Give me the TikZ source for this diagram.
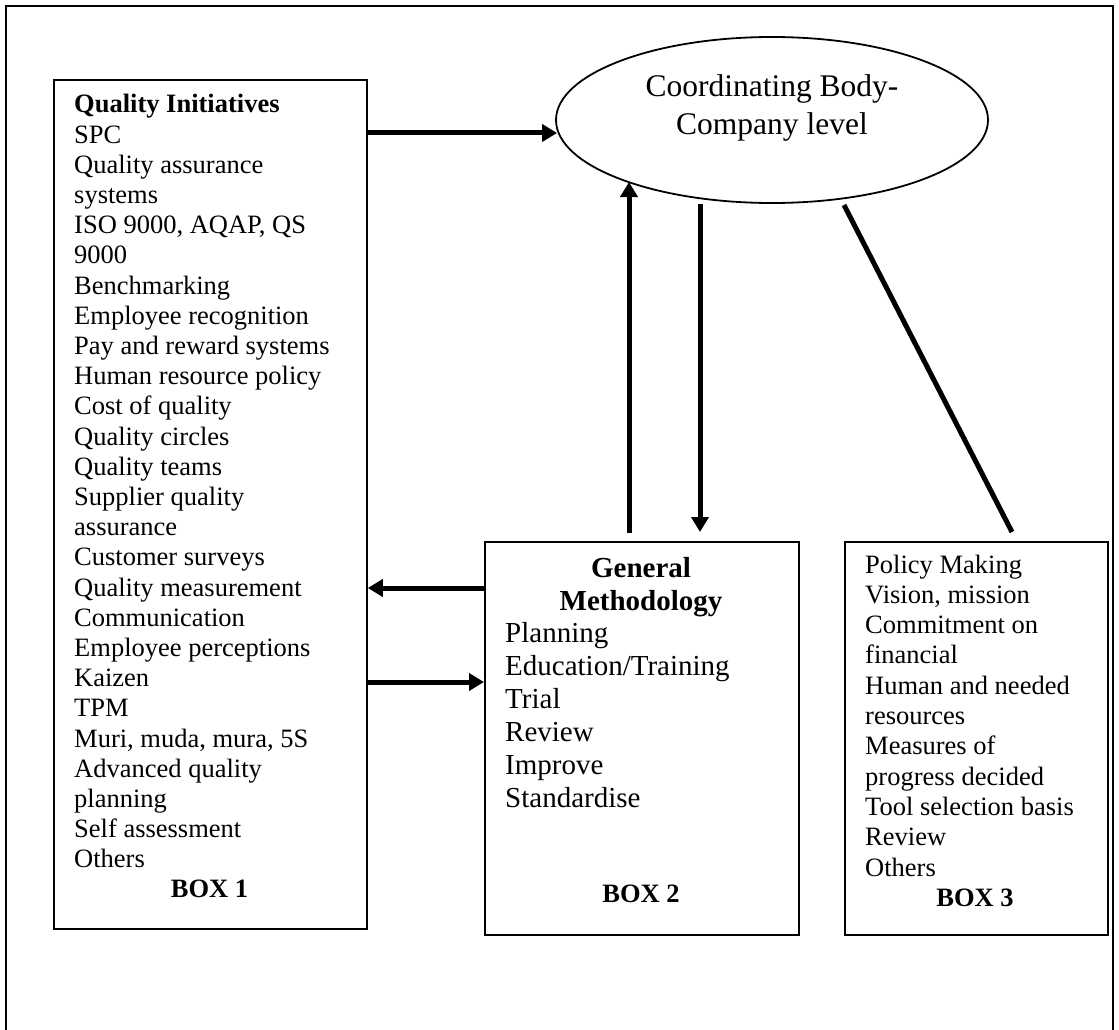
\documentclass[tikz,border=0pt]{standalone}
\usepackage{fontspec}
\setmainfont{Liberation Serif}
\usetikzlibrary{arrows.meta,shapes.geometric,calc}
\begin{document}
\begin{tikzpicture}[x=1pt,y=-1pt,
  outline/.style={draw, line width=1.8pt, inner sep=0pt},
  boxnode/.style={outline, rectangle, anchor=north west},
  flow/.style={line width=5pt, -{Triangle[length=15pt,width=17pt]}},
  link/.style={line width=5pt},
  listtext/.style={inner sep=0pt, font=\fontsize{26.5}{30.2}\selectfont},
  methtext/.style={inner sep=0pt, font=\fontsize{29}{33}\selectfont},
  boxlabel/.style={inner sep=0pt, anchor=base, font=\fontsize{26.5}{30.2}\selectfont\bfseries},
]
\useasboundingbox (0,0) rectangle (1119,1030);

% outer frame (open at the bottom edge of the page)
\draw[line width=1.8pt] (6,1032) -- (6,6) -- (1113,6) -- (1113,1032);

% boxes and the coordinating body
\node[boxnode, minimum width=313pt, minimum height=849pt] (box1) at (53,79) {};
\node[boxnode, minimum width=314pt, minimum height=393pt] (box2) at (484,541) {};
\node[boxnode, minimum width=263pt, minimum height=393pt] (box3) at (844,541) {};
\node[outline, ellipse, minimum width=432pt, minimum height=166pt] (ell) at (772,120) {};

% ellipse text
\node[inner sep=0pt, anchor=base, font=\fontsize{31.5}{38}\selectfont] (elltext) at (772,97)
  {\begin{tabular}[t]{@{}c@{}}Coordinating Body-\\Company level\end{tabular}};

% box 1 contents
\node[listtext, anchor=base west] (list1) at (74,113)
  {\begin{tabular}[t]{@{}l@{}}
   \textbf{Quality Initiatives}\\
   SPC\\
   Quality assurance\\
   systems\\
   ISO 9000, AQAP, QS\\
   9000\\
   Benchmarking\\
   Employee recognition\\
   Pay and reward systems\\
   Human resource policy\\
   Cost of quality\\
   Quality circles\\
   Quality teams\\
   Supplier quality\\
   assurance\\
   Customer surveys\\
   Quality measurement\\
   Communication\\
   Employee perceptions\\
   Kaizen\\
   TPM\\
   Muri, muda, mura, 5S\\
   Advanced quality\\
   planning\\
   Self assessment\\
   Others
   \end{tabular}};
\node[boxlabel] (lab1) at (209.5,897) {BOX 1};

% box 2 contents
\node[methtext, anchor=base, font=\fontsize{29}{33}\selectfont\bfseries] (title2) at (641,577)
  {\begin{tabular}[t]{@{}c@{}}General\\Methodology\end{tabular}};
\node[methtext, anchor=base west] (list2) at (505,642)
  {\begin{tabular}[t]{@{}l@{}}
   Planning\\
   Education/Training\\
   Trial\\
   Review\\
   Improve\\
   Standardise
   \end{tabular}};
\node[boxlabel] (lab2) at (641,902) {BOX 2};

% box 3 contents
\node[listtext, anchor=base west, font=\fontsize{26.5}{30.3}\selectfont] (list3) at (865,573)
  {\begin{tabular}[t]{@{}l@{}}
   Policy Making\\
   Vision, mission\\
   Commitment on\\
   financial\\
   Human and needed\\
   resources\\
   Measures of\\
   progress decided\\
   Tool selection basis\\
   Review\\
   Others
   \end{tabular}};
\node[boxlabel] (lab3) at (975,906) {BOX 3};

% connectors
\draw[flow] ($(box1.north east)+(0,54)$) -- ($(ell.west)+(2,13)$);
\draw[flow] ($(box2.north west)+(145,-8)$) -- ($(ell.center)+(-143,62)$);
\draw[flow] ($(ell.center)+(-72,84)$) -- ($(box2.north west)+(216,-9)$);
\draw[link] ($(ell.center)+(72,85)$) -- ($(box3.north west)+(168,-9)$);
\draw[flow] ($(box2.north west)+(0,47)$) -- ($(box1.north east)+(0,509)$);
\draw[flow] ($(box1.north east)+(0,603)$) -- ($(box2.north west)+(0,141)$);
\end{tikzpicture}
\end{document}
